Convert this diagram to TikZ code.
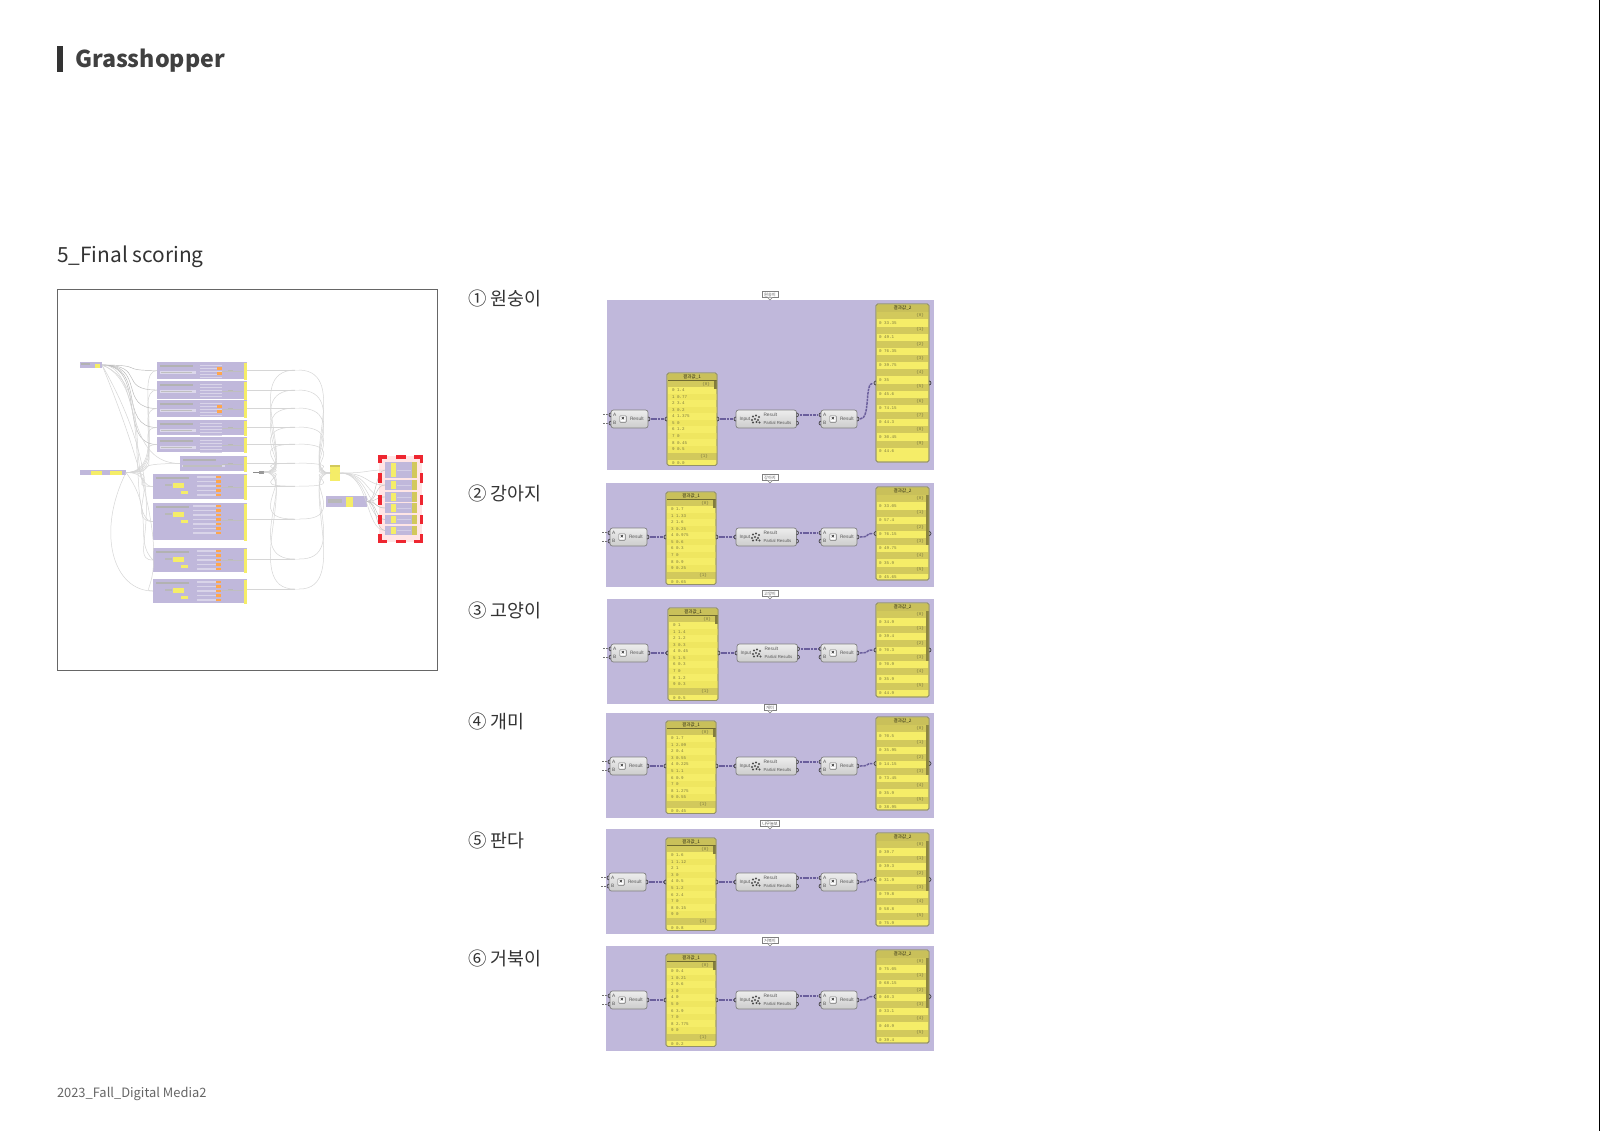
\documentclass[tikz,border=0pt]{standalone}
\usepackage{fontspec}
\usetikzlibrary{calc}
\setmainfont{Noto Sans CJK KR}
\newfontfamily\krf{Noto Sans CJK KR}
\newfontfamily\uif{Liberation Sans}
\newfontfamily\monof{Liberation Mono}
\definecolor{panelc}{HTML}{C0B8DB}
\definecolor{yl}{HTML}{F5ED68}
\definecolor{yl2}{HTML}{EFE660}
\definecolor{yd}{HTML}{D2C95C}
\definecolor{yt}{HTML}{C9C05A}
\definecolor{yb}{HTML}{93916A}
\definecolor{txo}{HTML}{7C783F}
\definecolor{wirep}{HTML}{6A5E9C}
\definecolor{tw}{HTML}{D6D6D6}
\definecolor{redf}{HTML}{EE2630}
\tikzset{
  every node/.style={inner sep=0pt,outer sep=0pt},
  panelbox/.style={fill=panelc},
  tablebox/.style={fill=yl,draw=yb,line width=.4pt,rounded corners=.8pt},
  gene/.style={draw=black!50,line width=.35pt,rounded corners=1.2pt,top color=white!93!black,bottom color=black!20},
  tagbox/.style={fill=white,draw=black!50,line width=.3pt,inner xsep=1pt,inner ysep=.5pt,font=\krf\fontsize{2.1pt}{2.4pt}\selectfont,text=black!65},
  uit/.style={font=\uif\fontsize{2.4pt}{2.8pt}\selectfont,text=black!65},
  cell/.style={font=\monof\fontsize{2.1pt}{2.4pt}\selectfont,text=txo},
  celltitle/.style={font=\krf\fontsize{2.3pt}{2.6pt}\selectfont,text=black!65!txo},
  wire/.style={draw=wirep,line width=.75pt,dash pattern=on 1.3pt off .4pt},
  stub/.style={draw=black!55,line width=.55pt,dash pattern=on 1.2pt off .4pt},
  portst/.style={draw=black!75,line width=.35pt},
  tline/.style={draw=tw,line width=.25pt},
  tdark/.style={draw=black!28,line width=.22pt},
  minib/.style={fill=panelc},
  redb/.style={draw=redf,line width=1.7pt},
  lbl/.style={font=\krf\fontsize{9.2pt}{11pt}\selectfont,text=black!80,anchor=west},
}
\newcommand\bx[7][]{%
  \pgfmathsetlengthmacro\bxw{(#5-#3)*0.5}%
  \pgfmathsetlengthmacro\bxh{(#6-#4)*0.5}%
  \node[anchor=north west,minimum width=\bxw,minimum height=\bxh,#1] (#2) at (#3,#4) {#7};}
\newcommand\pl[1]{\draw[portst] ($(#1)+(0,-2)$) arc[start angle=90,end angle=270,radius=1pt];}
\newcommand\pr[1]{\draw[portst] ($(#1)+(0,-2)$) arc[start angle=90,end angle=-90,radius=1pt];}
\newcommand\setrows[3]{\expandafter\def\csname rowsA#1\endcsname{#2}\expandafter\def\csname rowsB#1\endcsname{#3}}
\setrows{1}{0 1.4,1 0.77,2 3.4,3 0.2,4 1.375,5 0,6 1.2,7 0,8 0.45,9 0.5}{0 33.35,0 49.1,0 76.35,0 39.75,0 35,0 45.6,0 74.15,0 44.3,0 30.45,0 44.6}
\setrows{2}{0 1.7,1 1.33,2 1.6,3 0.25,4 0.975,5 0.6,6 0.3,7 0,8 0.9,9 0.25}{0 33.05,0 57.4,0 76.15,0 49.75,0 35.9,0 45.65}
\setrows{3}{0 1,1 1.4,2 1.2,3 0.3,4 0.45,5 1.5,6 0.3,7 0,8 1.2,9 0.3}{0 34.9,0 39.4,0 70.3,0 70.9,0 35.9,0 44.9}
\setrows{4}{0 1.7,1 2.09,2 0.4,3 0.55,4 0.225,5 1.1,6 0.9,7 0,8 1.275,9 0.55}{0 70.5,0 35.95,0 14.15,0 73.45,0 35.9,0 38.95}
\setrows{5}{0 1.6,1 1.12,2 1,3 0,4 0.5,5 1.2,6 2.4,7 0,8 0.15,9 0}{0 39.7,0 39.3,0 31.9,0 79.8,0 58.8,0 75.9}
\setrows{6}{0 0.4,1 0.21,2 0.6,3 0,4 0,5 0,6 3.9,7 0,8 2.775,9 0}{0 75.05,0 68.15,0 40.3,0 33.1,0 40.9,0 39.4}
\expandafter\def\csname lastA1\endcsname{0 0.0}
\expandafter\def\csname lastA2\endcsname{0 0.65}
\expandafter\def\csname lastA3\endcsname{0 0.5}
\expandafter\def\csname lastA4\endcsname{0 0.45}
\expandafter\def\csname lastA5\endcsname{0 0.8}
\expandafter\def\csname lastA6\endcsname{0 0.2}
\begin{document}
\begin{tikzpicture}[x=0.5pt,y=-0.5pt]
\useasboundingbox (0,0) rectangle (1600,1131);
\fill[white] (0,0) rectangle (1600,1131);
\draw[black,line width=.6pt] (1599.5,0) -- (1599.5,1131);
% headings
\fill[black!80] (57,46) rectangle (63,72);
\node[anchor=base west,text=black!75,font=\krf\bfseries\fontsize{11.6pt}{14pt}\selectfont] (title) at (75,67) {Grasshopper};
\node[anchor=base west,text=black!80,font=\krf\fontsize{10.45pt}{12pt}\selectfont] (sub) at (57,262) {5\_Final scoring};
\node[anchor=base west,text=black!60,font=\krf\fontsize{6.45pt}{8pt}\selectfont] (foot) at (57,1097) {2023\_Fall\_Digital Media2};
\node[lbl] (l1) at (468,298) {① 원숭이};
\node[lbl] (l2) at (468,493) {② 강아지};
\node[lbl] (l3) at (468,610) {③ 고양이};
\node[lbl] (l4) at (468,721) {④ 개미};
\node[lbl] (l5) at (468,840) {⑤ 판다};
\node[lbl] (l6) at (468,958) {⑥ 거북이};
% ---------- thumbnail ----------
\bx[draw=black!60,line width=.42pt]{frame}{57}{289.5}{437.5}{670}{}
\fill[red!10!white] (379,456) rectangle (422,542);
\bx[minib]{s1}{80}{362}{102}{368}{}
\fill[yl] (95,364) rectangle (100,368);
\fill[black!30] (81,363) rectangle (90,365);
\bx[minib]{s2}{80}{470}{126}{475}{}
\fill[yl] (91,471) rectangle (102,474.5);
\fill[yl] (110,471) rectangle (122,474.5);
\foreach \i/\xa/\ya/\yb/\ym in {
 1/157/362/379/371,2/157/381/399/391,3/157/400/417/409,4/157/420/435/428,5/157/437/452/445,
 6/180/456/471/464,7/153/474/499/487,8/153/503/540/520,9/153/548/572/560,10/153/579/603/590}{
  \bx[minib]{g\i}{\xa}{\ya}{247}{\yb}{}
  \bx[fill=yl]{gy\i}{243.5}{\ya+1}{247}{\yb-1}{}
  \bx[fill=black!40]{m\i}{295}{\ym-1}{299}{\ym+1}{}
  \fill[black!30] (\xa+3,\ya+3) rectangle (\xa+36,\ya+4.5);
  \draw[tline] (gy\i.east |- m\i.west) -- (m\i.west);
  \fill[black!28] (228,\ym-1) rectangle (233,\ym+.5);
  \draw[black!25,line width=.2pt] (222,\ym) -- (243,\ym);
}
% group interiors
\foreach \ya/\o in {362/1,381/0,400/1,420/0,437/0}{
  \fill[white!45!panelc] (160,\ya+9) rectangle (196,\ya+11.5);
  \fill[black!25] (161,\ya+9.5) rectangle (192,\ya+11);
  \foreach \r in {1,...,5}{
    \fill[white!40!panelc] (200,\ya+\r*3-.3) rectangle (222,\ya+\r*3+1);
  }
  \ifnum\o=1
    \fill[orange!70] (217,\ya+5) rectangle (222,\ya+7.5);
    \fill[orange!70] (217,\ya+10) rectangle (222,\ya+12.5);
  \fi
}
\fill[white!45!panelc] (182,465) rectangle (225,467);
\fill[black!25] (183,465.3) rectangle (222,466.5);
\foreach \ya/\n/\xl in {474/5/197,503/7/193,548/5/197,579/5/197}{
  \foreach \r in {1,...,\n}{
    \fill[white!40!panelc] (\xl,\ya+\r*4.5-2.5) rectangle (216,\ya+\r*4.5-1);
    \fill[orange!70] (216,\ya+\r*4.5-3) rectangle (221,\ya+\r*4.5-.5);
  }
  \fill[yl] (173,\ya+9) rectangle (184,\ya+14);
  \fill[yl] (181,\ya+17) rectangle (188,\ya+19.5);
  \fill[black!28] (165,\ya+10) rectangle (172,\ya+12);
}
% wires of the thumbnail
\foreach \i in {1,...,5}{
  \draw[tdark] (s1.east) .. controls +(45,0) and +(-40,0) .. (g\i.west);
  \draw[tline] (s2.east) .. controls +(45,0) and +(-25,0) .. (g\i.west);
}
\foreach \i in {7,8}{
  \draw[tline] (s1.east) .. controls +(55,20) and +(-30,0) .. (g\i.west);
  \draw[tline] (s2.east) .. controls +(40,0) and +(-30,0) .. (g\i.west);
}
\draw[tline] (s2.east) .. controls +(40,0) and +(-60,0) .. (g6.west);
\draw[tline] (s1.east) .. controls +(40,0) and +(-60,0) .. (g6.west);
\draw[tline] (s2.east) .. controls +(-30,60) and +(-40,0) .. (g10.west);
\draw[tline] (s1.east) .. controls +(80,140) and +(-30,0) .. (g9.west);
\draw[tline] (s2.east) .. controls +(30,40) and +(-20,-20) .. (g9.west);
\draw[tline] (s1.east) .. controls +(90,220) and +(-20,0) .. (g10.west);
% hubs
\bx[fill=black!40]{h2}{259}{470.5}{264}{473.5}{}
\coordinate (h2in) at (253,472);
\draw[black!45,line width=.3pt] (h2in) -- (h2.west);
\bx[fill=yl]{hub}{330}{465}{340}{481}{}
\fill[yd] (330,465) rectangle (340,467);
\foreach \i/\ym in {1/371,2/391,3/409,4/428,5/445,6/464,7/487,8/520,9/560,10/590}{
  \draw[tline] (h2.east) .. controls (300,472) and (240,\ym) .. (m\i.west);
  \draw[tline] (m\i.east) .. controls (352,\ym) and (298,473) .. (hub.west);
}
\bx[minib]{rg}{326}{496}{367}{507}{}
\fill[black!28] (328,499) rectangle (342,503);
\fill[yl] (346,497) rectangle (353,507);
% mini panels in red frame
\foreach \i/\ya/\yb in {1/462/478,2/480/490,3/492/502,4/503/513,5/515/524,6/526/535}{
  \bx[minib]{p\i}{385}{\ya}{417}{\yb}{}
  \fill[yl] (391,\ya+1) rectangle (396,\yb-1);
  \fill[yd] (412,\ya) rectangle (417,\yb);
  \draw[white!30!panelc,line width=.3pt] (397,\ya*.5+\yb*.5) -- (411,\ya*.5+\yb*.5);
  \draw[tline] (hub.east) .. controls +(30,0) and +(-20,0) .. (p\i.west);
  \draw[black!25,line width=.2pt] (rg.east) .. controls +(10,0) and +(-10,0) .. (p\i.west);
}
\draw[redb]
  (379.8,463) -- (379.8,456.8) -- (387,456.8)
  (396,456.8) -- (406,456.8)
  (414,456.8) -- (421.2,456.8) -- (421.2,463)
  (379.8,473) -- (379.8,483) (421.2,473) -- (421.2,483)
  (379.8,495) -- (379.8,505) (421.2,495) -- (421.2,505)
  (379.8,515) -- (379.8,524) (421.2,515) -- (421.2,524)
  (379.8,534) -- (379.8,541.2) -- (387,541.2)
  (396,541.2) -- (406,541.2)
  (414,541.2) -- (421.2,541.2) -- (421.2,534);
% ---------- six panels ----------
\foreach \i/\tg/\px/\pa/\pb/\ta/\tay/\mx/\my/\mid/\tby/\tbz/\sb in {
 1/원숭이/607/300/470/667/373/611/410/736/304/462/0,
 2/강아지/606/483/587/666/492/610/528/736/487/580/50,
 3/고양이/607/599/704/668/608/611/644/737/603/697/50,
 4/개미/606/713/818/666/721/610/757/736/717/810/50,
 5/나무늘보/606/829/934/666/838/609/873/736/833/926/50,
 6/거북이/606/946/1051/666/954/610/991/736/950/1043/50}{
  \bx[panelbox]{pan\i}{\px}{\pa}{934}{\pb}{}
  % tag
  \node[tagbox,anchor=south] (tag\i) at (770,\pa-2.5) {\tg};
  \draw[fill=white,draw=black!50,line width=.3pt] ($(tag\i.south)+(-2.5,0)$) -- ($(tag\i.south)+(0,2.5)$) -- ($(tag\i.south)+(2.5,0)$);
  % table 1
  \bx[tablebox]{ta\i}{\ta}{\tay}{\ta+50}{\tay+92.5}{}
  \fill[yt] (\ta+.5,\tay+.5) rectangle (\ta+49.5,\tay+7);
  \fill[black!45!yt] (\ta+.5,\tay+7) rectangle (\ta+49.5,\tay+7.6);
  \fill[yd] (\ta+.5,\tay+7.6) rectangle (\ta+49.5,\tay+14);
  \fill[black!35!yt] (\ta+47,\tay+7.6) rectangle (\ta+49.7,\tay+16);
  \node[celltitle] (ta\i t) at (\ta+25,\tay+3.8) {결과값\_1};
  \node[cell,anchor=east] (ta\i h) at (\ta+43,\tay+11) {\{0\}};
  \expandafter\let\expandafter\curA\csname rowsA\i\endcsname
  \foreach \v [count=\c from 0] in \curA {
    \ifodd\c \fill[yl2] (\ta+.5,\tay+14+\c*6.55) rectangle (\ta+49.5,\tay+14+\c*6.55+6.55);\fi
    \node[cell,anchor=west] (ta\i r\c) at (\ta+5,\tay+17.3+\c*6.55) {\v};
  }
  \fill[yd] (\ta+.5,\tay+80) rectangle (\ta+49.5,\tay+87);
  \node[cell,anchor=east] (ta\i h2) at (\ta+41,\tay+83.5) {\{1\}};
  \node[cell,anchor=west] (ta\i l) at (\ta+5,\tay+90.4) {\csname lastA\i\endcsname};
  \draw[draw=yb,line width=.4pt,rounded corners=.8pt] (ta\i.north west) rectangle (ta\i.south east);
  % table 2
  \bx[tablebox]{tb\i}{876}{\tby}{929}{\tbz}{}
  \fill[yt] (876.5,\tby+.5) rectangle (928.5,\tby+7.5);
  \fill[black!45!yt] (876.5,\tby+7.5) rectangle (928.5,\tby+8.3);
  \node[celltitle] (tb\i t) at (902.5,\tby+4) {결과값\_2};
  \expandafter\let\expandafter\curB\csname rowsB\i\endcsname
  \foreach \v [count=\c from 0] in \curB {
    \pgfmathsetmacro\yy{\tby+8.3+\c*14.25}
    \fill[yd] (876.5,\yy) rectangle (928.5,\yy+7);
    \node[cell,anchor=east] (tb\i h\c) at (924,\yy+3.3) {\{\c\}};
    \node[cell,anchor=west] (tb\i r\c) at (879,\yy+10.4) {\v};
  }
  \ifnum\sb>0 \fill[black!30!yt] (926.3,\tby+8) rectangle (928.8,\tby+8+\sb); \fi
  \draw[draw=yb,line width=.4pt,rounded corners=.8pt] (tb\i.north west) rectangle (tb\i.south east);
  % components
  \bx[gene]{ma\i}{\mx}{\my}{\mx+37}{\my+18}{}
  \bx[gene]{mi\i}{\mid}{\my}{\mid+60.5}{\my+18}{}
  \bx[gene]{mb\i}{821}{\my}{857}{\my+18}{}
  % wires and ports
  \coordinate (maA\i) at ($(ma\i.north west)!.27!(ma\i.south west)$);
  \coordinate (maB\i) at ($(ma\i.north west)!.73!(ma\i.south west)$);
  \coordinate (stA\i) at ($(maA\i)+(-8,0)$);
  \coordinate (stB\i) at ($(maB\i)+(-8,0)$);
  \coordinate (miR\i) at ($(mi\i.north east)!.27!(mi\i.south east)$);
  \coordinate (miP\i) at ($(mi\i.north east)!.73!(mi\i.south east)$);
  \coordinate (mbA\i) at ($(mb\i.north west)!.27!(mb\i.south west)$);
  \coordinate (mbB\i) at ($(mb\i.north west)!.73!(mb\i.south west)$);
  \draw[stub,shorten >=1.5pt] (stA\i) -- (maA\i);
  \draw[stub,shorten >=1.5pt] (stB\i) -- (maB\i);
  \draw[wire,shorten <=1.5pt,shorten >=1.5pt] (ma\i.east) -- (ma\i.east -| ta\i.west);
  \draw[wire,shorten <=1.5pt,shorten >=1.5pt] (ta\i.east |- mi\i.west) -- (mi\i.west);
  \draw[wire,shorten <=1.5pt,shorten >=1.5pt] (miR\i) -- (mbA\i);
  \draw[wire,shorten <=1.5pt,shorten >=1.5pt] (mb\i.east) .. controls +(14,0) and +(-12,0) .. (tb\i.west);
  \pl{maA\i}\pl{maB\i}\pr{ma\i.east}
  \pl{ma\i.east -| ta\i.west}\pr{ta\i.east |- mi\i.west}
  \pl{mi\i.west}\pr{miR\i}\pr{miP\i}
  \pl{mbA\i}\pl{mbB\i}\pr{mb\i.east}
  \pl{tb\i.west}\pr{tb\i.east}
  % labels inside components
  \foreach \nm in {ma,mb}{
    \node[uit] (\nm\i a) at ($(\nm\i.north west)!.27!(\nm\i.south west)+(3.8,0)$) {A};
    \node[uit] (\nm\i b) at ($(\nm\i.north west)!.73!(\nm\i.south west)+(3.8,0)$) {B};
    \node[fill=white,draw=black!55,line width=.3pt,rounded corners=.3pt,minimum width=3.2pt,minimum height=3.2pt,font=\uif\bfseries\fontsize{2.8pt}{3pt}\selectfont] (\nm\i x) at ($(\nm\i.west)+(12,0)$) {×};
    \node[uit,anchor=west] (\nm\i r) at ($(\nm\i.west)+(19,0)$) {Result};
  }
  \node[uit,anchor=west] (mi\i i) at ($(mi\i.west)+(3.5,0)$) {Input};
  \node[uit,anchor=west] (mi\i r) at ($(miR\i)+(-33,0)$) {Result};
  \node[uit,anchor=west,font=\uif\fontsize{2.15pt}{2.6pt}\selectfont] (mi\i p) at ($(miP\i)+(-33,.3)$) {Partial Results};
  \foreach \dx/\dy in {-3/-2.5,0/-3.5,3/-2,-4/1,-1/0,2/1,-3/3.5,0.5/3,3.5/3.5}{
    \fill[black!70] ($(mi\i.west)+(20,0)+(\dx,\dy)$) circle[radius=.6pt];
  }
}
\end{tikzpicture}
\end{document}
